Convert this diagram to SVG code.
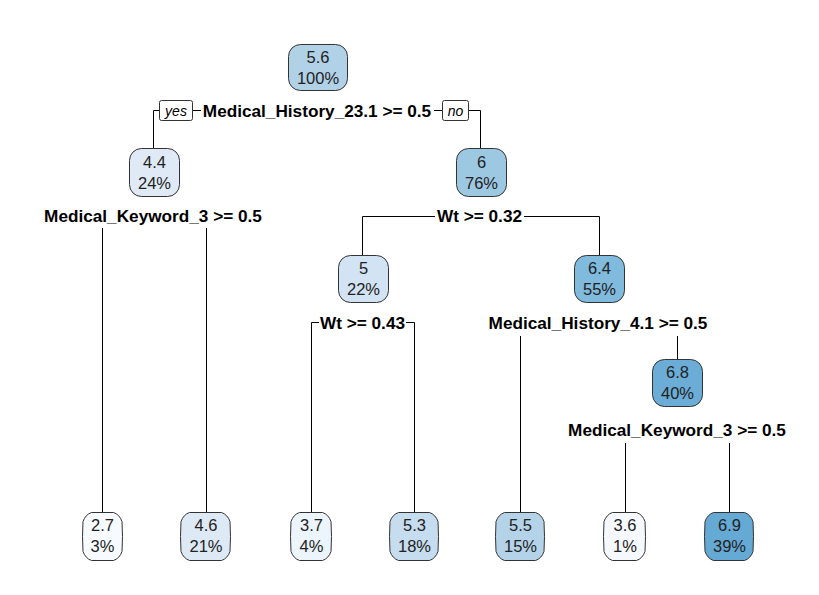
<svg xmlns="http://www.w3.org/2000/svg" width="819" height="595" viewBox="0 0 819 595">
<style>
  .bx{stroke:#333;stroke-width:1}
  .nt{font-family:"Liberation Sans",Arial,sans-serif;font-size:16.5px;fill:#222;text-anchor:middle}
  .sp{font-family:"Liberation Sans",Arial,sans-serif;font-size:17.2px;font-weight:bold;fill:#000;text-anchor:middle}
  .yn{font-family:"Liberation Sans",Arial,sans-serif;font-size:14px;font-style:italic;fill:#000;text-anchor:middle}
  .ln{stroke:#000;stroke-width:1;fill:none}
  .lb{fill:#fff;stroke:#333;stroke-width:1}
</style>
<rect width="819" height="595" fill="#fff"/>
<g id="connectors">
  <path class="ln" d="M159,110.5 H153.5 V148"/>
  <path class="ln" d="M193,110.5 H201"/>
  <path class="ln" d="M434,110.5 H442"/>
  <path class="ln" d="M469,110.5 H480.5 V148"/>
  <path class="ln" d="M102.5,228 V512"/>
  <path class="ln" d="M206.5,228 V512"/>
  <path class="ln" d="M435,216.5 H362.5 V255"/>
  <path class="ln" d="M524,216.5 H599.5 V255"/>
  <path class="ln" d="M319,322.5 H311.5 V512"/>
  <path class="ln" d="M406,322.5 H414.5 V512"/>
  <path class="ln" d="M520.5,336 V512"/>
  <path class="ln" d="M677.5,336 V359"/>
  <path class="ln" d="M625.5,443 V512"/>
  <path class="ln" d="M729.5,443 V512"/>
</g>
<g id="yes-label">
  <rect class="lb" x="159.5" y="100.5" width="33" height="20" rx="2"/>
  <text class="yn" x="176" y="115.5">yes</text>
</g>
<g id="no-label">
  <rect class="lb" x="442.5" y="100.5" width="26" height="20" rx="2"/>
  <text class="yn" x="455.5" y="115.5">no</text>
</g>
<g id="n1">
  <rect class="bx" x="288.5" y="44.5" width="59" height="46" rx="12" fill="#b1d1e7"/>
  <text class="nt" x="318" y="63">5.6</text>
  <text class="nt" x="318" y="83.5">100%</text>
  <text class="sp" x="317" y="117">Medical_History_23.1 &gt;= 0.5</text>
</g>
<g id="n2">
  <rect class="bx" x="129.5" y="148.5" width="50" height="48" rx="12" fill="#dfeaf6"/>
  <text class="nt" x="154.5" y="167.5">4.4</text>
  <text class="nt" x="154.5" y="188.5">24%</text>
  <text class="sp" x="153" y="222">Medical_Keyword_3 &gt;= 0.5</text>
</g>
<g id="n3">
  <rect class="bx" x="456.5" y="148.5" width="50" height="48" rx="12" fill="#9dc8e2"/>
  <text class="nt" x="481.5" y="167.5">6</text>
  <text class="nt" x="481.5" y="188.5">76%</text>
  <text class="sp" x="479.5" y="222">Wt &gt;= 0.32</text>
</g>
<g id="n6">
  <rect class="bx" x="338.5" y="255.5" width="50" height="47" rx="12" fill="#d2e3f3"/>
  <text class="nt" x="363.5" y="274">5</text>
  <text class="nt" x="363.5" y="295">22%</text>
  <text class="sp" x="362.5" y="329">Wt &gt;= 0.43</text>
</g>
<g id="n7">
  <rect class="bx" x="574.5" y="255.5" width="50" height="47" rx="12" fill="#80badd"/>
  <text class="nt" x="599.5" y="274">6.4</text>
  <text class="nt" x="599.5" y="295">55%</text>
  <text class="sp" x="598" y="329">Medical_History_4.1 &gt;= 0.5</text>
</g>
<g id="n15">
  <rect class="bx" x="652.5" y="359.5" width="50" height="47" rx="12" fill="#6badd6"/>
  <text class="nt" x="677.5" y="378">6.8</text>
  <text class="nt" x="677.5" y="399">40%</text>
  <text class="sp" x="677" y="436">Medical_Keyword_3 &gt;= 0.5</text>
</g>
<g id="leaf-2.7">
  <path class="bx" fill="#f7fbff" d="M91.5,512.5 H113.5 Q119.5,514.5 122,521.5 Q123,536.5 122,551.5 Q119.5,558.5 113.5,560.5 H91.5 Q85.5,558.5 83,551.5 Q82,536.5 83,521.5 Q85.5,514.5 91.5,512.5 Z"/>
  <text class="nt" x="102.5" y="531">2.7</text>
  <text class="nt" x="102.5" y="552">3%</text>
</g>
<g id="leaf-4.6">
  <path class="bx" fill="#dde9f5" d="M189.5,512.5 H221.5 Q227.5,514.5 230,521.5 Q231,536.5 230,551.5 Q227.5,558.5 221.5,560.5 H189.5 Q183.5,558.5 181,551.5 Q180,536.5 181,521.5 Q183.5,514.5 189.5,512.5 Z"/>
  <text class="nt" x="206" y="531">4.6</text>
  <text class="nt" x="206" y="552">21%</text>
</g>
<g id="leaf-3.7">
  <path class="bx" fill="#ecf4fc" d="M299.5,512.5 H322.5 Q328.5,514.5 331,521.5 Q332,536.5 331,551.5 Q328.5,558.5 322.5,560.5 H299.5 Q293.5,558.5 291,551.5 Q290,536.5 291,521.5 Q293.5,514.5 299.5,512.5 Z"/>
  <text class="nt" x="311.5" y="531">3.7</text>
  <text class="nt" x="311.5" y="552">4%</text>
</g>
<g id="leaf-5.3">
  <path class="bx" fill="#c6dcef" d="M398.5,512.5 H429.5 Q435.5,514.5 438,521.5 Q439,536.5 438,551.5 Q435.5,558.5 429.5,560.5 H398.5 Q392.5,558.5 390,551.5 Q389,536.5 390,521.5 Q392.5,514.5 398.5,512.5 Z"/>
  <text class="nt" x="414.5" y="531">5.3</text>
  <text class="nt" x="414.5" y="552">18%</text>
</g>
<g id="leaf-5.5">
  <path class="bx" fill="#b4d3e9" d="M504.5,512.5 H535.5 Q541.5,514.5 544,521.5 Q545,536.5 544,551.5 Q541.5,558.5 535.5,560.5 H504.5 Q498.5,558.5 496,551.5 Q495,536.5 496,521.5 Q498.5,514.5 504.5,512.5 Z"/>
  <text class="nt" x="520.5" y="531">5.5</text>
  <text class="nt" x="520.5" y="552">15%</text>
</g>
<g id="leaf-3.6">
  <path class="bx" fill="#f5f9fe" d="M612.5,512.5 H636.5 Q642.5,514.5 645,521.5 Q646,536.5 645,551.5 Q642.5,558.5 636.5,560.5 H612.5 Q606.5,558.5 604,551.5 Q603,536.5 604,521.5 Q606.5,514.5 612.5,512.5 Z"/>
  <text class="nt" x="625" y="531">3.6</text>
  <text class="nt" x="625" y="552">1%</text>
</g>
<g id="leaf-6.9">
  <path class="bx" fill="#65a9d5" d="M713.5,512.5 H744.5 Q750.5,514.5 753,521.5 Q754,536.5 753,551.5 Q750.5,558.5 744.5,560.5 H713.5 Q707.5,558.5 705,551.5 Q704,536.5 705,521.5 Q707.5,514.5 713.5,512.5 Z"/>
  <text class="nt" x="729.5" y="531">6.9</text>
  <text class="nt" x="729.5" y="552">39%</text>
</g>
</svg>
